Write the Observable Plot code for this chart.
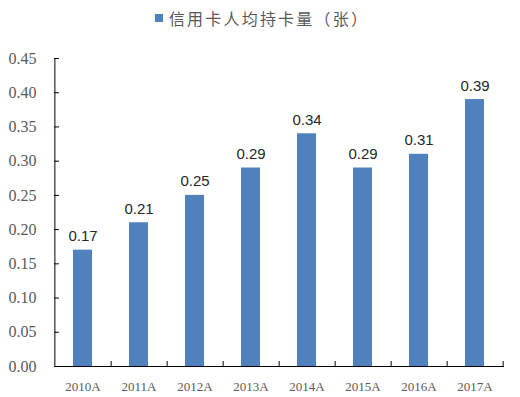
<!DOCTYPE html>
<html>
<head>
<meta charset="utf-8">
<script src="https://cdn.jsdelivr.net/npm/d3@7"></script>
<script src="https://cdn.jsdelivr.net/npm/@observablehq/plot@0.6"></script>
<style>
  html, body { margin: 0; padding: 0; background: #fff; }
  #legend { height: 36px; display: flex; align-items: center; justify-content: center; font-family: "Noto Sans CJK SC", sans-serif; font-size: 16px; letter-spacing: 2.2px; color: #595959; padding-left: 4px; box-sizing: border-box; }
  #legend .sw { width: 8px; height: 8px; background: #4F81BD; margin-right: 6px; }
</style>
</head>
<body>
<div id="legend"><span class="sw"></span><span id="legendText"></span></div>
<div id="chart"></div>
<script>
const seriesName = "信用卡人均持卡量（张）";
const years = ["2010A", "2011A", "2012A", "2013A", "2014A", "2015A", "2016A", "2017A"];
const values = [0.17, 0.21, 0.25, 0.29, 0.34, 0.29, 0.31, 0.39];
const yTicks = [0, 0.05, 0.10, 0.15, 0.20, 0.25, 0.30, 0.35, 0.40, 0.45];

document.getElementById("legendText").textContent = seriesName;

const data = years.map((y, i) => ({year: y, value: values[i]}));

const W = 520, H = 361;
const mL = 54, mR = 16, mT = 22, mB = 31;
const innerW = W - mL - mR, innerH = H - mT - mB;
const step = innerW / years.length;

const chart = Plot.plot({
  width: W,
  height: H,
  marginLeft: mL,
  marginRight: mR,
  marginTop: mT,
  marginBottom: mB,
  x: {domain: years, paddingInner: 0.66, paddingOuter: 0.33},
  y: {domain: [0, 0.45]},
  marks: [
    Plot.barY(data, {x: "year", y: "value", fill: "#4F81BD"}),
    Plot.text(data, {x: "year", y: "value", text: d => d.value.toFixed(2), lineAnchor: "bottom", dy: -9, fill: "#262626", fontSize: 15, fontFamily: "'Liberation Sans', sans-serif"}),
    Plot.axisY({ticks: yTicks, tickSize: 0, tickPadding: 18, tickFormat: d3.format(".2f"), fontSize: 16, fontFamily: "'Liberation Serif', serif", fill: "#595959", label: null}),
    Plot.ruleY(yTicks, {y: d => d, insetRight: innerW - 5, stroke: "#000"}),
    Plot.axisX({tickSize: 0, tickPadding: 15, fontSize: 13, fontFamily: "'Liberation Serif', serif", fill: "#595959", label: null}),
    Plot.ruleX(years, {x: d => d, dx: step / 2, insetTop: innerH - 5, stroke: "#000"}),
    Plot.ruleX([years[0]], {x: d => d, dx: -step / 2, stroke: "#000"}),
    Plot.ruleY([0], {stroke: "#000"})
  ]
});
document.getElementById("chart").appendChild(chart);
</script>
</body>
</html>
